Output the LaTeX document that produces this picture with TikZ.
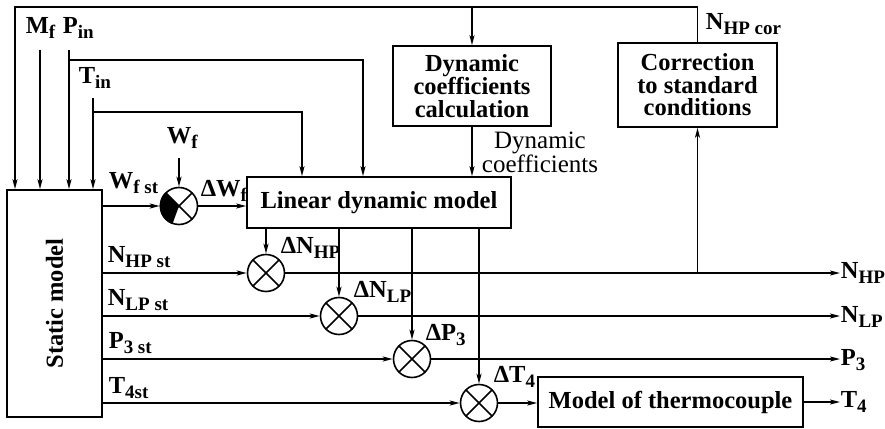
\documentclass[tikz,border=0pt]{standalone}
\usepackage{fontspec}
\setmainfont{Liberation Serif}
\usetikzlibrary{arrows.meta}
\newcommand\sbs[1]{\raisebox{-5pt}{\fontsize{19}{19}\selectfont #1}}
\tikzset{
  blk/.style={draw, line width=1.6pt, align=center, inner sep=0pt,
    font=\bfseries\fontsize{24.5}{22.5}\selectfont},
  lbl/.style={inner sep=0pt, anchor=base west, font=\bfseries\fontsize{24.5}{24}\selectfont},
  sumj/.style={circle, draw, line width=1.6pt, minimum size=37pt, inner sep=0pt,
    path picture={\draw[line width=1.6pt] (path picture bounding box.north west) -- (path picture bounding box.south east)
      (path picture bounding box.north east) -- (path picture bounding box.south west);}},
}
\begin{document}
\begin{tikzpicture}[x=1pt,y=-1pt,line width=1.6pt,
  >={Stealth[length=10pt,width=5pt,inset=2.5pt]}]
\useasboundingbox (0,0) rectangle (885,428);

% blocks
\node[blk, minimum width=95pt, minimum height=227pt] (sm) at (54.5,303.5) {};
\node[rotate=90, inner sep=0pt, font=\bfseries\fontsize{24.5}{24}\selectfont] (smt) at (sm.center) {Static model};
\node[blk, minimum width=264pt, minimum height=51pt] (ldm) at (379,202.5) {Linear dynamic model};
\node[blk, minimum width=158pt, minimum height=80pt] (dcc) at (472,86) {Dynamic\\coefficients\\calculation};
\node[blk, minimum width=159pt, minimum height=84pt] (cor) at (697.5,85) {Correction\\to standard\\conditions};
\node[blk, minimum width=265pt, minimum height=50pt] (thm) at (670.5,402) {Model of thermocouple};

% summing junctions
\node[sumj] (c1) at (179,206) {};
\fill (c1.center) \foreach \a in {135,140,...,250}{ -- (c1.\a)} -- cycle;
\node[sumj] (c2) at (266,273) {};
\node[sumj] (c3) at (339,316) {};
\node[sumj] (c4) at (412,359) {};
\node[sumj] (c5) at (479,403) {};

% labels
\node[lbl] (lmf) at (25,34) {M\sbs{f}};
\node[lbl] (lpin) at (62,34) {P\sbs{in}};
\node[lbl] (ltin) at (78,83) {T\sbs{in}};
\node[lbl] (lwf) at (166,143) {W\sbs{f}};
\node[lbl] (lwfst) at (108,188) {W\sbs{f st}};
\node[lbl] (ldwf) at (200,196) {ΔW\sbs{f}};
\node[lbl] (lnhpst) at (107,262) {N\sbs{HP st}};
\node[lbl] (lnlpst) at (107,305) {N\sbs{LP st}};
\node[lbl] (lp3st) at (108,348) {P\sbs{3 st}};
\node[lbl] (lt4st) at (108,393) {T\sbs{4st}};
\node[lbl] (ldnhp) at (280,253) {ΔN\sbs{HP}};
\node[lbl] (ldnlp) at (353,297) {ΔN\sbs{LP}};
\node[lbl] (ldp3) at (425,340) {ΔP\sbs{3}};
\node[lbl] (ldt4) at (493,382) {ΔT\sbs{4}};
\node[lbl] (onhp) at (840,278) {N\sbs{HP}};
\node[lbl] (onlp) at (840,322) {N\sbs{LP}};
\node[lbl] (op3) at (840,365) {P\sbs{3}};
\node[lbl] (ot4) at (840,407) {T\sbs{4}};
\node[lbl] (lcor) at (705,30) {N\sbs{HP cor}};
\node[inner sep=0pt, anchor=north, align=center, font=\fontsize{25}{21}\selectfont] (ldc) at (540,131) {Dynamic\\coefficients};

% coordinates
\coordinate (tl) at (15,7);
\coordinate (mf) at (40,50);
\coordinate (pin) at (69,50);
\coordinate (pj) at (69,60);
\coordinate (tin) at (93,98);
\coordinate (tj) at (93,112);
\coordinate (wfin) at (179,158);

% top feedback line
\draw[->] (cor.north) |- (tl) -- (tl |- sm.north);
\draw[->] (dcc.north |- tl) -- (dcc.north);
% inputs
\draw[->] (mf) -- (mf |- sm.north);
\draw[->] (pin) -- (pin |- sm.north);
\draw[->] (tin) -- (tin |- sm.north);
\draw[->] (pj) -| ([xshift=-16pt]ldm.north);
\draw[->] (tj) -| ([xshift=-77pt]ldm.north);
\draw[->] (dcc.south) -- (dcc.south |- ldm.north);
% fuel
\draw[->] (wfin) -- (c1.north);
\draw[->] (sm.east |- c1) -- (c1.west);
\draw[->] (c1.east) -- (c1 -| ldm.west);
% static outputs
\draw[->] (sm.east |- c2) -- (c2.west);
\draw[->] (sm.east |- c3) -- (c3.west);
\draw[->] (sm.east |- c4) -- (c4.west);
\draw[->] (sm.east |- c5) -- (c5.west);
% dynamic outputs
\draw[->] (c2 |- ldm.south) -- (c2.north);
\draw[->] (c3 |- ldm.south) -- (c3.north);
\draw[->] (c4 |- ldm.south) -- (c4.north);
\draw[->] (c5 |- ldm.south) -- (c5.north);
% outputs
\draw[->] (c2.east) -- (c2 -| onhp.west);
\draw[->] (c3.east) -- (c3 -| onlp.west);
\draw[->] (c4.east) -- (c4 -| op3.west);
\draw[->] (c5.east) -- (c5 -| thm.west);
\draw[->] (thm.east) -- (thm.east -| ot4.west);
\draw[->] (c2 -| cor.south) -- (cor.south);
\end{tikzpicture}
\end{document}
